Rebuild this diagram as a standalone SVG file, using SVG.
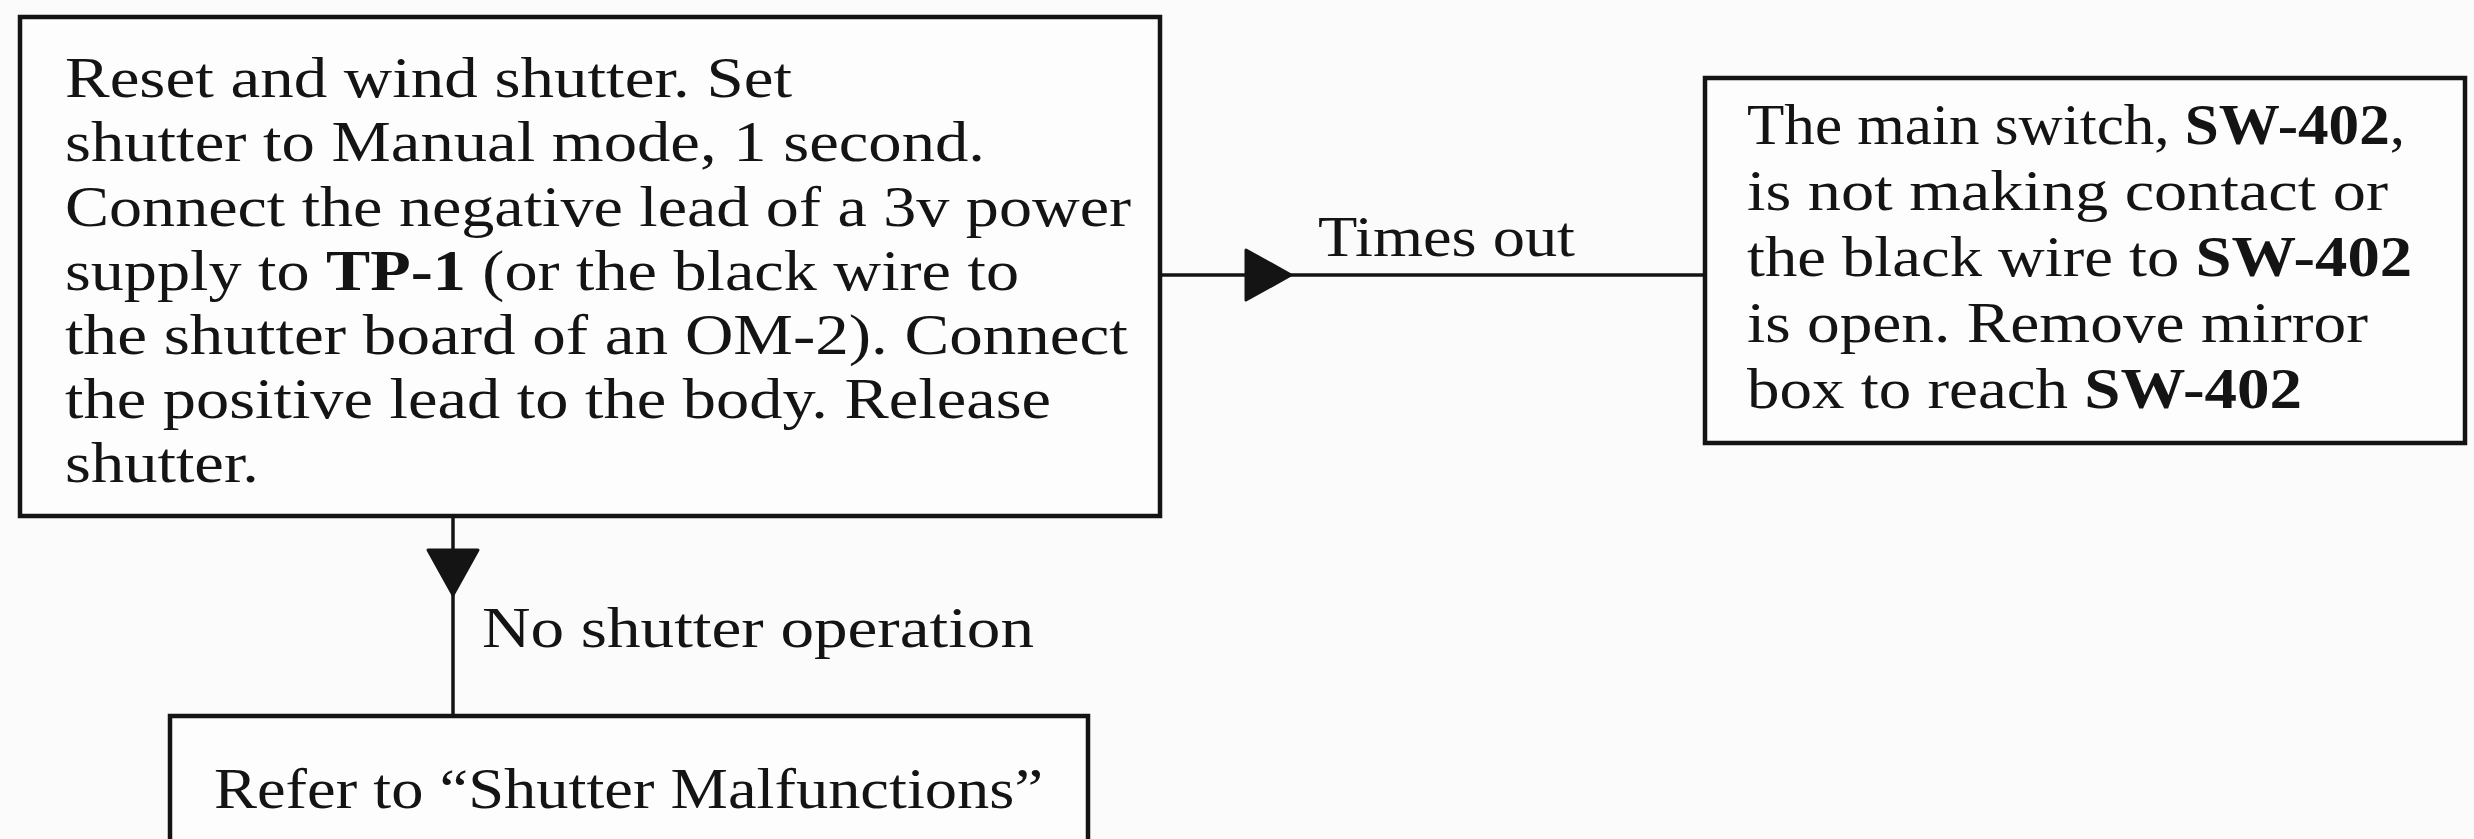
<svg xmlns="http://www.w3.org/2000/svg" width="2474" height="839" viewBox="0 0 2474 839">
  <style>
    .box { fill: #fdfdfd; stroke: #141414; stroke-width: 4.5; }
    .wire { fill: none; stroke: #141414; stroke-width: 3.5; }
    .txt { font-family: "Liberation Serif", "Times New Roman", serif; font-size: 58px; fill: #141414; }
    .b { font-weight: bold; }
  </style>
  <defs>
    <marker id="arrowhead" viewBox="-48 -28 52 56" markerWidth="52" markerHeight="56" refX="0" refY="0" markerUnits="userSpaceOnUse" orient="auto">
      <path d="M-45,-25 L0,0 L-45,25 Z" fill="#141414" stroke="#141414" stroke-width="3" stroke-linejoin="round"/>
    </marker>
  </defs>
  <rect width="2474" height="839" fill="#fbfbfb"/>

  <!-- connectors -->
  <g id="connectors">
    <path class="wire" d="M1160,275 L1291,275 L1705,275" marker-mid="url(#arrowhead)"/>
    <text class="txt" x="1318" y="256" textLength="257" lengthAdjust="spacingAndGlyphs">Times out</text>
    <path class="wire" d="M453,516 L453,595 L453,716" marker-mid="url(#arrowhead)"/>
    <text class="txt" x="482" y="647" textLength="552" lengthAdjust="spacingAndGlyphs">No shutter operation</text>
  </g>

  <!-- test step -->
  <g id="node-test">
    <rect class="box" x="20" y="17" width="1140" height="499"/>
    <text class="txt" x="65" y="97" textLength="727" lengthAdjust="spacingAndGlyphs">Reset and wind shutter. Set</text>
    <text class="txt" x="65" y="161" textLength="920" lengthAdjust="spacingAndGlyphs">shutter to Manual mode, 1 second.</text>
    <text class="txt" x="65" y="226" textLength="1066" lengthAdjust="spacingAndGlyphs">Connect the negative lead of a 3v power</text>
    <text class="txt" x="65" y="290" textLength="954" lengthAdjust="spacingAndGlyphs">supply to <tspan class="b">TP-1</tspan> (or the black wire to</text>
    <text class="txt" x="65" y="354" textLength="1063" lengthAdjust="spacingAndGlyphs">the shutter board of an OM-2). Connect</text>
    <text class="txt" x="65" y="418" textLength="986" lengthAdjust="spacingAndGlyphs">the positive lead to the body. Release</text>
    <text class="txt" x="65" y="482" textLength="194" lengthAdjust="spacingAndGlyphs">shutter.</text>
  </g>

  <!-- times-out result -->
  <g id="node-switch">
    <rect class="box" x="1705" y="78" width="760" height="365"/>
    <text class="txt" x="1747" y="144" textLength="658" lengthAdjust="spacingAndGlyphs">The main switch, <tspan class="b">SW-402</tspan>,</text>
    <text class="txt" x="1747" y="210" textLength="641" lengthAdjust="spacingAndGlyphs">is not making contact or</text>
    <text class="txt" x="1747" y="276" textLength="665" lengthAdjust="spacingAndGlyphs">the black wire to <tspan class="b">SW-402</tspan></text>
    <text class="txt" x="1747" y="342" textLength="621" lengthAdjust="spacingAndGlyphs">is open. Remove mirror</text>
    <text class="txt" x="1747" y="408" textLength="555" lengthAdjust="spacingAndGlyphs">box to reach <tspan class="b">SW-402</tspan></text>
  </g>

  <!-- no-operation result -->
  <g id="node-refer">
    <rect class="box" x="170" y="716" width="918" height="200"/>
    <text class="txt" x="214" y="808" textLength="829" lengthAdjust="spacingAndGlyphs">Refer to “Shutter Malfunctions”</text>
  </g>
</svg>
